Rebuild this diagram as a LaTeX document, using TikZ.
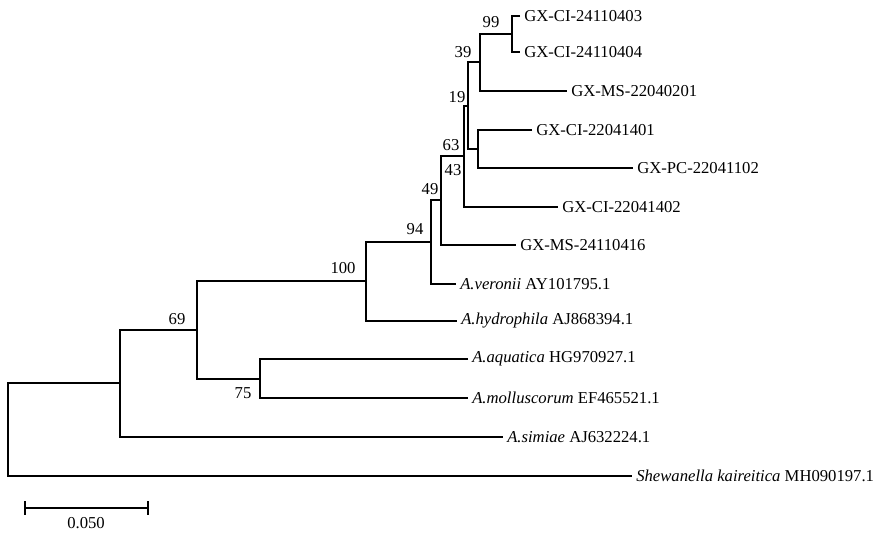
\documentclass[tikz,border=0pt]{standalone}
\usepackage{fontspec}
\setmainfont{Liberation Serif}
\begin{document}
\begin{tikzpicture}[x=0.75pt,y=-0.75pt,
  every node/.style={font=\fontsize{12.5}{14}\selectfont},
  leaf/.style={anchor=west,inner sep=3pt},
  boot/.style={inner sep=1pt},
  branch/.style={line width=0.9pt}]
\useasboundingbox (0,0) rectangle (879,543);
% internal nodes
\coordinate (n99) at (512,34);
\coordinate (n39) at (480,62);
\coordinate (n22) at (478,149);
\coordinate (n19) at (468,106);
\coordinate (n63) at (464,156);
\coordinate (n49) at (441,200);
\coordinate (n94) at (431,242);
\coordinate (n100) at (366,281);
\coordinate (n75) at (260,379);
\coordinate (n69) at (197,330);
\coordinate (nsim) at (120,383);
\coordinate (root) at (8,430);
% leaves
\node[leaf] (t1) at (520,16) {GX-CI-24110403};
\node[leaf] (t2) at (520,52) {GX-CI-24110404};
\node[leaf] (t3) at (567,91) {GX-MS-22040201};
\node[leaf] (t4) at (532,130) {GX-CI-22041401};
\node[leaf] (t5) at (633,168) {GX-PC-22041102};
\node[leaf] (t6) at (558,207) {GX-CI-22041402};
\node[leaf] (t7) at (516,245) {GX-MS-24110416};
\node[leaf] (t8) at (456,284) {\textit{A.veronii} AY101795.1};
\node[leaf] (t9) at (457,321) {\textit{A.hydrophila} AJ868394.1};
\node[leaf] (t10) at (468,359) {\textit{A.aquatica} HG970927.1};
\node[leaf] (t11) at (468,398) {\textit{A.molluscorum} EF465521.1};
\node[leaf] (t12) at (503,437) {\textit{A.simiae} AJ632224.1};
\node[leaf] (t13) at (632,476) {\textit{Shewanella kaireitica} MH090197.1};
% branches
\draw[branch] (t1.west) -| (n99) |- (t2.west);
\draw[branch] (n99) -| (n39) |- (t3.west);
\draw[branch] (t4.west) -| (n22) |- (t5.west);
\draw[branch] (n39) -| (n19) |- (n22);
\draw[branch] (n19) -| (n63) |- (t6.west);
\draw[branch] (n63) -| (n49) |- (t7.west);
\draw[branch] (n49) -| (n94) |- (t8.west);
\draw[branch] (n94) -| (n100) |- (t9.west);
\draw[branch] (t10.west) -| (n75) |- (t11.west);
\draw[branch] (n100) -| (n69) |- (n75);
\draw[branch] (n69) -| (nsim) |- (t12.west);
\draw[branch] (nsim) -| (root) |- (t13.west);
% bootstrap values
\node[boot] at (491,22) {99};
\node[boot] at (463,52) {39};
\node[boot] at (457,97) {19};
\node[boot] at (451,145) {63};
\node[boot] at (453,170) {43};
\node[boot] at (430,189) {49};
\node[boot] at (415,229) {94};
\node[boot] at (343,268) {100};
\node[boot] at (177,319) {69};
\node[boot] at (243,393) {75};
% scale bar
\coordinate (s0) at (25,508);
\coordinate (s1) at (148,508);
\draw[branch] (s0) -- (s1);
\draw[branch] ([yshift=-5]s0) -- ([yshift=5]s0);
\draw[branch] ([yshift=-5]s1) -- ([yshift=5]s1);
\node (sl) at (86,523) {0.050};
\end{tikzpicture}
\end{document}
